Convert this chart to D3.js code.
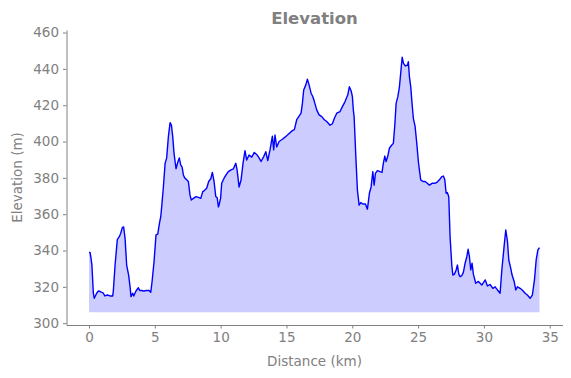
<!DOCTYPE html>
<html>
<head>
<meta charset="utf-8">
<script src="https://cdn.jsdelivr.net/npm/d3@7"></script>
<style>
  body { margin: 0; background: #fff; }
  text { font-family: "DejaVu Sans", sans-serif; fill: #808080; }
</style>
</head>
<body>
<div id="vizcontainer"></div>
<script>
// distance (km) and elevation (m)
const distKm = [
  0.00, 0.08, 0.15, 0.22, 0.33, 0.40, 0.58, 0.71, 0.89, 1.09, 1.20, 1.39, 1.60, 1.80, 1.85, 1.98,
  2.15, 2.30, 2.41, 2.53, 2.63, 2.74, 2.86, 3.01, 3.12, 3.19, 3.32, 3.40, 3.57, 3.75, 3.85, 4.00,
  4.15, 4.38, 4.56, 4.69, 4.79, 4.94, 5.09, 5.22, 5.35, 5.45, 5.52, 5.65, 5.78, 5.90, 6.03, 6.16,
  6.26, 6.36, 6.46, 6.61, 6.76, 6.86, 6.97, 7.07, 7.17, 7.27, 7.42, 7.55, 7.67, 7.77, 7.93, 8.13,
  8.31, 8.49, 8.64, 8.76, 8.94, 9.09, 9.25, 9.37, 9.50, 9.63, 9.74, 9.83, 9.88, 10.00, 10.08, 10.26,
  10.41, 10.58, 10.79, 10.97, 11.15, 11.25, 11.40, 11.55, 11.70, 11.85, 11.98, 12.16, 12.36, 12.56, 12.77, 12.92,
  13.07, 13.27, 13.43, 13.58, 13.75, 13.93, 14.03, 14.13, 14.26, 14.44, 14.64, 14.89, 15.14, 15.45, 15.60, 15.78,
  16.11, 16.21, 16.31, 16.47, 16.59, 16.72, 16.87, 17.00, 17.12, 17.30, 17.48, 17.68, 17.88, 18.06, 18.31, 18.49,
  18.64, 18.82, 19.07, 19.25, 19.45, 19.66, 19.78, 19.91, 20.01, 20.08, 20.14, 20.27, 20.39, 20.52, 20.65, 20.80,
  21.00, 21.15, 21.30, 21.43, 21.56, 21.66, 21.76, 21.91, 22.11, 22.26, 22.36, 22.47, 22.57, 22.70, 22.82, 22.97,
  23.12, 23.23, 23.33, 23.46, 23.58, 23.69, 23.79, 23.89, 24.04, 24.19, 24.26, 24.34, 24.44, 24.54, 24.64, 24.77,
  24.90, 25.02, 25.10, 25.20, 25.36, 25.53, 25.70, 25.86, 26.06, 26.27, 26.42, 26.62, 26.80, 26.92, 27.03, 27.13,
  27.22, 27.33, 27.43, 27.56, 27.64, 27.76, 27.89, 27.99, 28.09, 28.19, 28.30, 28.44, 28.57, 28.70, 28.80, 28.90,
  29.00, 29.10, 29.20, 29.38, 29.58, 29.84, 30.10, 30.27, 30.47, 30.68, 30.85, 31.03, 31.23, 31.36, 31.53, 31.66,
  31.79, 31.89, 32.04, 32.14, 32.30, 32.42, 32.55, 32.75, 32.95, 33.13, 33.30, 33.51, 33.68, 33.84, 33.97, 34.10,
  34.22
];
const elevM = [
  339, 339, 336, 332, 316.5, 313.7, 316.5, 317.7, 317.3, 316.5, 315, 315.5, 315, 315, 318, 332,
  346, 347.6, 349.5, 352.6, 353, 346.7, 332, 326.5, 320, 314.6, 316.5, 315, 317.7, 319.5, 318, 318,
  317.7, 318, 318, 317, 322.8, 333.8, 348.6, 349, 355, 358.6, 364, 375, 388, 391, 402.7, 410.4,
  409, 402.7, 393.5, 385, 389, 391, 387, 386, 381.6, 380, 379, 378, 370.6, 367.8, 368.7, 369.7,
  369.3, 368.7, 372.4, 373, 374.3, 378, 379.5, 383, 378, 369.7, 369, 364, 365, 369, 377, 379.8,
  381.6, 383.4, 384.4, 385, 388, 384.4, 375, 378.8, 388, 395, 389.8, 392.6, 391.4, 394, 392.6, 391,
  389, 391.7, 394.4, 389.5, 395.4, 403, 395.4, 403.6, 397, 400, 401, 402.4, 404, 406, 406.6, 412,
  415.6, 421, 428.4, 431.2, 434.3, 431.2, 426.6, 424.8, 422, 417.4, 414.7, 413.7, 412, 411, 409, 409.8,
  412.8, 415.6, 416.5, 419.2, 422, 425.7, 430.2, 428, 424.7, 417.4, 413.7, 391.7, 373.3, 365, 366.4, 365.6,
  365.6, 362.7, 371.5, 375, 383.4, 376, 382.5, 384, 383.4, 383, 388, 392, 389, 392, 396.3, 397.8,
  399, 409, 421, 424.7, 430, 438.5, 446.4, 443, 441.6, 442, 444, 435.7, 430.2, 421, 412.8, 408.5,
  399, 389, 384.4, 378.9, 378, 378, 377, 376, 377, 377, 377.5, 378.9, 380.7, 381, 378.9, 371.5,
  371.9, 369.6, 347.6, 332, 326.5, 327, 329.3, 332, 327, 325.6, 326, 328, 333, 336.6, 340.7, 336.6,
  329.3, 333, 327, 322, 323, 321, 323.8, 320.5, 321.3, 319.2, 320, 318.3, 316.5, 329.3, 342, 351.3,
  345, 334.8, 330.2, 326.5, 322.9, 318.3, 320, 319.2, 318, 316.5, 315.5, 313.7, 315.5, 323.8, 334.8, 340.3,
  341.6
];
const fillBase = 306;
const xTicks = [0, 5, 10, 15, 20, 25, 30, 35];
const yTicks = [300, 320, 340, 360, 380, 400, 420, 440, 460];

const
  W = 571, H = 378,
  margin = { top: 30, right: 8.5, bottom: 53, left: 66.5 },
  width = W - margin.left - margin.right,
  height = H - margin.top - margin.bottom
  ;

const data = distKm.map((d, i) => ({ d: d, e: elevM[i] }));

const svg = d3.select('#vizcontainer')
  .append('svg')
  .attr('width', W)
  .attr('height', H);

const g = svg.append('g')
  .attr('transform', `translate(${margin.left},${margin.top})`);

const x = d3.scaleLinear().domain([-1.71, 35.97]).range([0, width]);
const y = d3.scaleLinear().domain([299, 461.4]).range([height, 0]);

// fill under the profile
g.append('path')
  .datum(data)
  .attr('fill', '#ccccff')
  .attr('d', d3.area()
    .x(p => x(p.d))
    .y0(y(fillBase))
    .y1(p => y(p.e))
  );

g.append('path')
  .datum(data)
  .attr('fill', 'none')
  .attr('stroke', '#0000ff')
  .attr('stroke-width', 1.4)
  .attr('stroke-linejoin', 'round')
  .attr('d', d3.line().x(p => x(p.d)).y(p => y(p.e)));

// axes, only left and bottom spines
const xAxis = g.append('g')
  .attr('transform', `translate(0,${height})`)
  .call(d3.axisBottom(x).tickValues(xTicks).tickSize(3.5).tickPadding(4).tickSizeOuter(0));
const yAxis = g.append('g')
  .call(d3.axisLeft(y).tickValues(yTicks).tickSize(3.5).tickPadding(4).tickSizeOuter(0));

[xAxis, yAxis].forEach(a => {
  a.selectAll('path, line').attr('stroke', '#808080').attr('stroke-width', 1);
  a.selectAll('text')
    .style('font-family', '"DejaVu Sans", sans-serif')
    .style('font-size', '13.5px')
    .attr('fill', '#808080');
});

svg.append('text')
  .attr('x', margin.left + width / 2)
  .attr('y', 24)
  .attr('text-anchor', 'middle')
  .style('font-size', '16.5px')
  .style('font-weight', 'bold')
  .text('Elevation');

svg.append('text')
  .attr('x', margin.left + width / 2)
  .attr('y', 366)
  .attr('text-anchor', 'middle')
  .style('font-size', '13.5px')
  .text('Distance (km)');

svg.append('text')
  .attr('transform', `translate(22,${margin.top + height / 2}) rotate(-90)`)
  .attr('text-anchor', 'middle')
  .style('font-size', '13.5px')
  .text('Elevation (m)');
</script>
</body>
</html>
